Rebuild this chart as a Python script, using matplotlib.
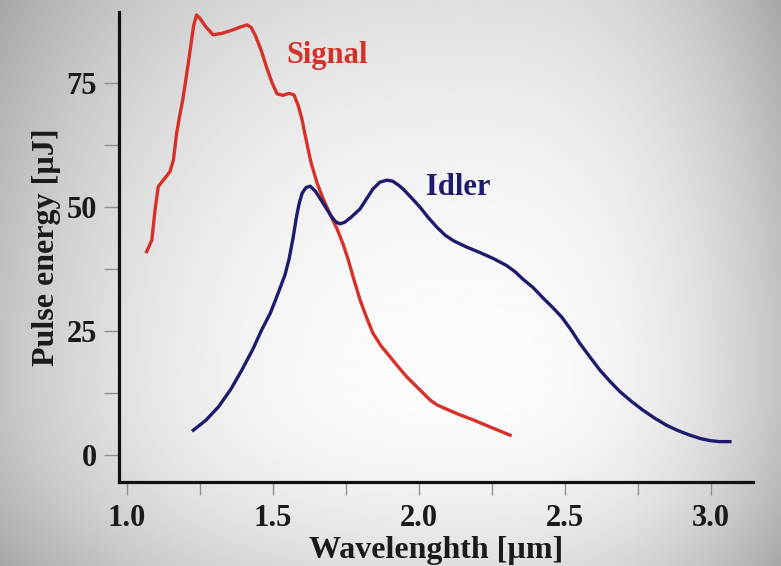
import numpy as np
import matplotlib
matplotlib.use('Agg')
import matplotlib.pyplot as plt

# Signal curve (wavelength in um, pulse energy in uJ)
signal_x = [1.067, 1.085, 1.096, 1.107, 1.124, 1.147, 1.159, 1.170, 1.182, 1.191,
            1.210, 1.228, 1.238, 1.250, 1.270, 1.295, 1.325, 1.353, 1.385, 1.411,
            1.425, 1.440, 1.460, 1.479, 1.497, 1.514, 1.534, 1.555, 1.572, 1.586,
            1.598, 1.610, 1.630, 1.651, 1.673, 1.695, 1.720, 1.740, 1.757, 1.774,
            1.798, 1.820, 1.842, 1.870, 1.901, 1.930, 1.959, 1.990, 2.014, 2.040,
            2.062, 2.100, 2.140, 2.185, 2.250, 2.312]
signal_y = [41.0, 43.3, 49.4, 54.1, 55.4, 57.1, 59.5, 64.9, 68.9, 71.6,
            79.0, 86.5, 88.7, 88.0, 86.3, 84.7, 85.0, 85.5, 86.2, 86.7,
            86.2, 84.5, 81.5, 78.0, 75.0, 72.8, 72.5, 72.9, 72.6, 70.5,
            68.0, 64.5, 59.0, 54.8, 51.5, 48.6, 45.5, 42.5, 39.5, 36.0,
            31.3, 27.8, 24.6, 22.0, 19.8, 17.7, 15.7, 13.9, 12.5, 11.0,
            10.1, 9.1, 8.1, 7.1, 5.5, 4.0]

# Idler curve
idler_x = [1.227, 1.270, 1.313, 1.355, 1.393, 1.430, 1.461, 1.490, 1.507, 1.525,
           1.541, 1.555, 1.568, 1.581, 1.590, 1.600, 1.613, 1.627, 1.645, 1.667,
           1.685, 1.701, 1.715, 1.729, 1.745, 1.765, 1.798, 1.820, 1.842, 1.866,
           1.890, 1.910, 1.930, 1.946, 1.975, 2.003, 2.030, 2.060, 2.090, 2.118,
           2.160, 2.209, 2.255, 2.300, 2.330, 2.357, 2.390, 2.426, 2.457, 2.489,
           2.520, 2.551, 2.585, 2.620, 2.655, 2.688, 2.728, 2.768, 2.808, 2.848,
           2.888, 2.928, 2.965, 2.997, 3.030, 3.065]
idler_y = [5.0, 7.0, 9.7, 13.2, 17.1, 21.2, 25.2, 28.5, 31.0, 33.8,
           36.3, 39.5, 43.5, 48.2, 50.8, 52.8, 53.9, 54.2, 53.2, 51.2,
           49.5, 48.0, 47.0, 46.6, 46.9, 47.8, 49.6, 51.6, 53.6, 55.0,
           55.4, 55.2, 54.4, 53.6, 51.8, 50.0, 48.0, 46.0, 44.3, 43.2,
           42.0, 40.8, 39.6, 38.2, 36.9, 35.4, 33.8, 31.6, 29.8, 27.8,
           25.3, 22.5, 19.8, 17.1, 14.8, 12.8, 10.8, 9.0, 7.4, 6.0,
           4.9, 4.0, 3.3, 2.9, 2.7, 2.7]

x_ticks = [1.0, 1.5, 2.0, 2.5, 3.0]
y_ticks = [0, 25, 50, 75]

red = '#d5312a'
navy = '#1e1a6c'
font = 'Liberation Serif'

fig = plt.figure(figsize=(7.81, 5.66), dpi=100)

# grey gradient background
bg = fig.add_axes([0, 0, 1, 1], zorder=-10)
gx, gy = np.meshgrid(np.linspace(0, 781, 400), np.linspace(0, 566, 300))
dx = np.where(gx < 470, (470 - gx) / 470, (gx - 470) / 311)
dy = np.where(gy < 380, (380 - gy) / 380, (gy - 380) / 186)
shade = 0.985 - 0.22 * dx ** 2.6 - 0.11 * dy ** 2
bg.imshow(shade, cmap='gray', vmin=0, vmax=1, extent=[0, 1, 0, 1],
          aspect='auto', origin='upper')
bg.axis('off')

ax = fig.add_axes([0.1524, 0.1484, 0.8117, 0.8304])
ax.patch.set_alpha(0)

ax.plot(signal_x, signal_y, color=red, lw=2.4, solid_joinstyle='round')
ax.plot(idler_x, idler_y, color=navy, lw=2.4, solid_joinstyle='round')

ax.set_xlim(0.9726, 3.144)
ax.set_ylim(-5.44, 89.3)

for s in ['top', 'right']:
    ax.spines[s].set_visible(False)
for s in ['left', 'bottom']:
    ax.spines[s].set_linewidth(2.3)
    ax.spines[s].set_color('#111111')

ax.set_xticks(x_ticks)
ax.set_xticks([1.25, 1.75, 2.25, 2.75], minor=True)
ax.set_yticks(y_ticks)
ax.set_yticks([12.5, 37.5, 62.5], minor=True)
ax.set_xticklabels(['%.1f' % v for v in x_ticks])
ax.set_yticklabels([str(v) for v in y_ticks])

ax.tick_params(axis='both', which='both', direction='out', color='#909090', width=1)
ax.tick_params(axis='y', which='both', length=11, pad=5)
ax.tick_params(axis='x', which='both', length=9, pad=7)
for lab in ax.get_xticklabels() + ax.get_yticklabels():
    lab.set_fontfamily(font)
    lab.set_fontweight('bold')
    lab.set_fontsize(22)
    lab.set_color('#1a1a1a')

ax.set_xlabel('Wavelenghth [\u00b5m]', fontfamily=font, fontweight='bold',
              fontsize=23, color='#1a1a1a', labelpad=2)
ax.set_ylabel('Pulse energy [\u00b5J]', fontfamily=font, fontweight='bold',
              fontsize=23, color='#1a1a1a', labelpad=4)

ax.text(1.545, 80.5, 'Signal', color=red, fontfamily=font, fontweight='bold',
        fontsize=22, ha='left', va='center')
ax.text(2.025, 54.0, 'Idler', color=navy, fontfamily=font, fontweight='bold',
        fontsize=22, ha='left', va='center')

fig.savefig('out.png', dpi=100)
